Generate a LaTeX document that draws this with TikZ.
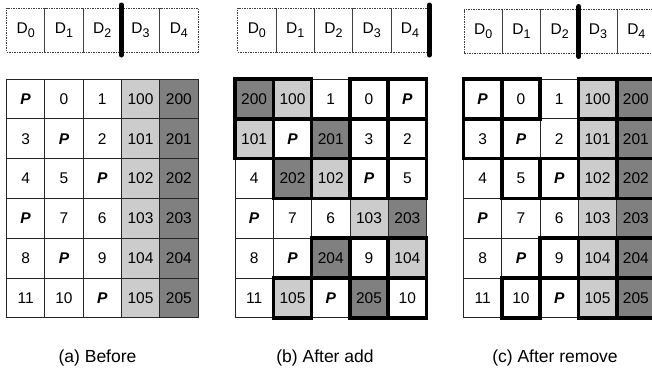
\documentclass[tikz,border=0pt]{standalone}
\usepackage{fontspec}
\setmainfont{Liberation Sans}
\definecolor{cellw}{RGB}{255,255,255}
\definecolor{celll}{RGB}{204,204,204}
\definecolor{celld}{RGB}{128,128,128}
\newcommand\parP{\textbf{\textit{P}}}
\newcommand\Dsub[1]{D\raisebox{-3.8pt}{\fontsize{12.5}{13}\selectfont #1}}
\tikzset{
 gridcell/.style={draw=black!85, line width=0.8pt, minimum width=38.3pt, minimum height=39.8pt,
   inner sep=0pt, outer sep=0pt, font=\fontsize{15.5}{17}\selectfont},
 hdrcell/.style={draw=black!75, dash pattern=on 1.5pt off 1pt, line width=0.7pt,
   minimum width=38.3pt, minimum height=44pt, inner sep=0pt, outer sep=0pt,
   font=\fontsize{15.5}{17}\selectfont},
 moved/.style={draw=black, line width=3.6pt, line join=miter},
 divider/.style={draw=black, line width=5pt, line cap=round},
 caption/.style={font=\fontsize{17.5}{20}\selectfont}
}
\newcommand\drawpanel[3]{%
  \foreach \rowlist [count=\rr] in {#3} {
    \foreach \txt/\fl/\oflag [count=\cc] in \rowlist {
      \node[gridcell, fill=cell\fl] (#1-\rr-\cc) at ({#2+(\cc-0.5)*38.3}, {79+(\rr-0.5)*39.8}) {\txt};
    }
  }
  \foreach \rowlist [count=\rr] in {#3} {
    \foreach \txt/\fl/\oflag [count=\cc] in \rowlist {
      \ifnum\oflag=1 \draw[moved] (#1-\rr-\cc.north west) rectangle (#1-\rr-\cc.south east);\fi
    }
  }
}
\newcommand\drawheader[3]{%
  \foreach \ii in {0,...,4} {
    \node[hdrcell] (#1-\ii) at ({#2+(\ii+0.5)*38.3}, #3) {\Dsub{\ii}};
  }
}
\begin{document}
\begin{tikzpicture}[x=1pt, y=-1pt]
\useasboundingbox (0,0) rectangle (652,373);
\clip (0,0) rectangle (652,373);

% headers
\drawheader{ha}{6.5}{30}
\drawheader{hb}{237.7}{30}
\drawheader{hc}{464}{31.5}
\draw[divider] ([yshift=3pt]ha-2.north east) -- ([yshift=-3pt]ha-2.south east);
\draw[divider] ([yshift=3pt]hb-4.north east) -- ([yshift=-3pt]hb-4.south east);
\draw[divider] ([yshift=3pt]hc-2.north east) -- ([yshift=-3pt]hc-2.south east);

% panel (a)
\drawpanel{a}{6.5}{%
 {{\parP}/w/0, 0/w/0, 1/w/0, 100/l/0, 200/d/0},
 {3/w/0, {\parP}/w/0, 2/w/0, 101/l/0, 201/d/0},
 {4/w/0, 5/w/0, {\parP}/w/0, 102/l/0, 202/d/0},
 {{\parP}/w/0, 7/w/0, 6/w/0, 103/l/0, 203/d/0},
 {8/w/0, {\parP}/w/0, 9/w/0, 104/l/0, 204/d/0},
 {11/w/0, 10/w/0, {\parP}/w/0, 105/l/0, 205/d/0}}

% panel (b)
\drawpanel{b}{235}{%
 {200/d/1, 100/l/1, 1/w/0, 0/w/1, {\parP}/w/1},
 {101/l/1, {\parP}/w/0, 201/d/1, 3/w/1, 2/w/1},
 {4/w/0, 202/d/1, 102/l/1, {\parP}/w/1, 5/w/1},
 {{\parP}/w/0, 7/w/0, 6/w/0, 103/l/0, 203/d/0},
 {8/w/0, {\parP}/w/0, 204/d/1, 9/w/1, 104/l/1},
 {11/w/0, 105/l/1, {\parP}/w/0, 205/d/1, 10/w/1}}

% panel (c)
\drawpanel{c}{463.5}{%
 {{\parP}/w/1, 0/w/1, 1/w/0, 100/l/1, 200/d/1},
 {3/w/1, {\parP}/w/0, 2/w/0, 101/l/1, 201/d/1},
 {4/w/0, 5/w/1, {\parP}/w/1, 102/l/1, 202/d/1},
 {{\parP}/w/0, 7/w/0, 6/w/0, 103/l/0, 203/d/0},
 {8/w/0, {\parP}/w/0, 9/w/1, 104/l/1, 204/d/1},
 {11/w/0, 10/w/1, {\parP}/w/0, 105/l/1, 205/d/1}}

% captions
\node[caption] (capa) at (97.5,358) {(a) Before};
\node[caption] (capb) at (325,358) {(b) After add};
\node[caption] (capc) at (555,358) {(c) After remove};
\end{tikzpicture}
\end{document}
